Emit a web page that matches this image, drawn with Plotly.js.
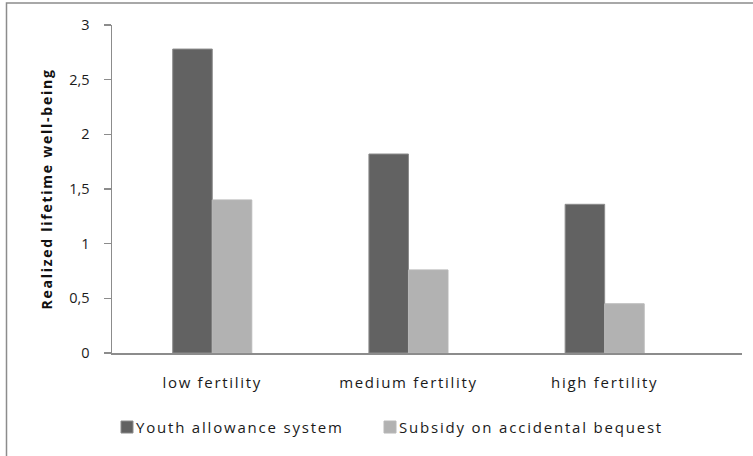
<!DOCTYPE html>
<html>
<head>
<meta charset="utf-8">
<script src="https://cdn.plot.ly/plotly-3.0.1.min.js"></script>
<style>
html,body{margin:0;padding:0;background:#fff;}
#chart{width:753px;height:456px;}
#chart g.xtick text{letter-spacing:1.7px;}
text.legendtext{letter-spacing:1.8px !important;}
#chart text.legendtext{transform:translateX(-11px);}
#chart g.legend .scrollbox{clip-path:none !important;}
#chart text.ytitle{letter-spacing:1.75px;}
</style>
</head>
<body>
<div id="chart"></div>
<script>
const categories = ["low fertility", "medium fertility", "high fertility"];
const youthAllowance = [2.78, 1.82, 1.36];
const subsidyBequest = [1.40, 0.76, 0.45];
const yTicks = [0, 0.5, 1, 1.5, 2, 2.5, 3];

const FONT = "Open Sans, Noto Sans, sans-serif";
const TXT = "#1a1a1a";
const data = [
  {type: "bar", name: "Youth allowance system", x: categories, y: youthAllowance,
   marker: {color: "#626262", line: {color: "#8c8c8c", width: 1}}},
  {type: "bar", name: "Subsidy on accidental bequest", x: categories, y: subsidyBequest,
   marker: {color: "#b2b2b2", line: {color: "#b8b8b8", width: 1}}}
];
const layout = {
  width: 753, height: 456,
  margin: {l: 112, r: 11, t: 24.5, b: 102.5},
  paper_bgcolor: "#ffffff", plot_bgcolor: "#ffffff",
  separators: ", ",
  barmode: "group", bargap: 0.597, bargroupgap: 0,
  showlegend: true,
  font: {family: FONT, size: 14, color: TXT},
  xaxis: {type: "category", range: [-0.511, 2.70], showgrid: false, zeroline: false,
          showline: true, linecolor: "#8c8c8c", linewidth: 1.5, ticks: "",
          ticklabelstandoff: 15, tickfont: {family: FONT, size: 15, color: TXT}},
  yaxis: {range: [0, 3], tickvals: yTicks, showgrid: false, zeroline: false,
          showline: true, linecolor: "#8c8c8c", linewidth: 1.5,
          ticks: "outside", ticklen: 7, tickcolor: "#8c8c8c", tickwidth: 1.5,
          ticklabelstandoff: 11,
          tickfont: {family: FONT, size: 14.5, color: TXT},
          title: {text: "Realized lifetime well-being", standoff: 13,
                  font: {family: FONT, size: 14, color: "#111", weight: "bold"}}},
  legend: {orientation: "h", xanchor: "left", yanchor: "middle",
           x: (107 - 112) / 630, y: (353.5 - 428) / 329,
           font: {family: FONT, size: 15, color: TXT},
           itemwidth: 30, entrywidth: 218, entrywidthmode: "pixels",
           traceorder: "normal", bgcolor: "rgba(0,0,0,0)", borderwidth: 0},
  shapes: [{type: "rect", xref: "paper", yref: "paper",
            x0: (6.5 - 112) / 630, x1: (760 - 112) / 630,
            y0: (353.5 - 470) / 329, y1: (353.5 - 2.5) / 329,
            line: {color: "#8c8c8c", width: 1.5}, fillcolor: "rgba(0,0,0,0)", layer: "below"}]
};
Plotly.newPlot("chart", data, layout, {displayModeBar: false, staticPlot: true});
</script>
</body>
</html>
